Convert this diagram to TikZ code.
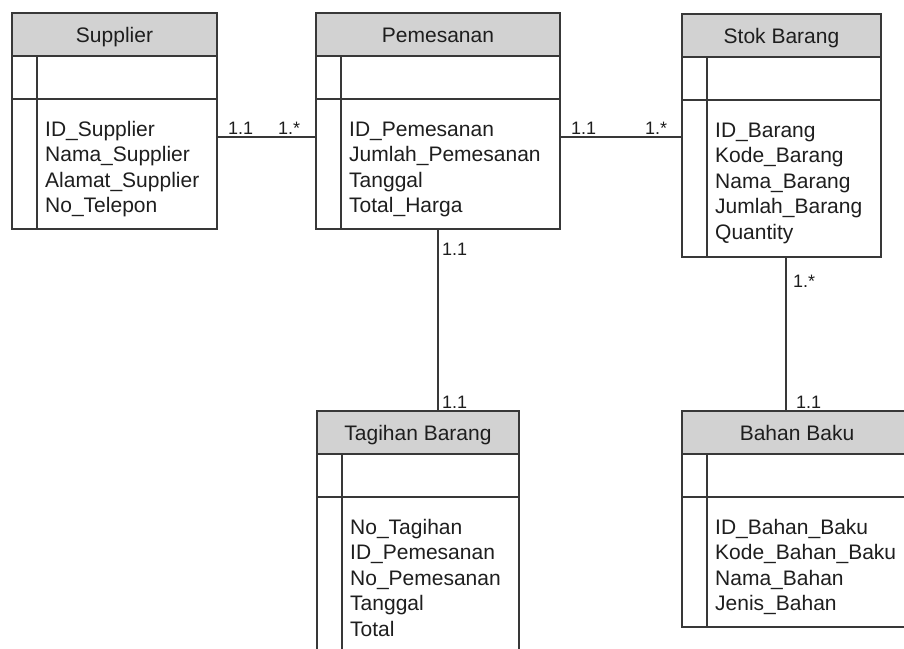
\documentclass[tikz,border=0pt]{standalone}
\usepackage{fontspec}
\setmainfont{Liberation Sans}
\usetikzlibrary{calc,fit}

\definecolor{edgecol}{HTML}{383838}
\definecolor{headfill}{HTML}{D2D2D2}
\definecolor{txtcol}{HTML}{1E1E1E}

\tikzset{
  entbox/.style={inner sep=0pt, outer sep=0pt},
  entline/.style={draw=edgecol, line width=1.3pt},
  hdrtext/.style={anchor=base, inner sep=0pt, text=txtcol, font=\fontsize{21}{25}\selectfont},
  attr/.style={anchor=base west, inner sep=0pt, text=txtcol, font=\fontsize{21}{25}\selectfont},
  mult/.style={anchor=base west, inner sep=0pt, text=txtcol, font=\fontsize{18}{21}\selectfont},
  conn/.style={draw=edgecol, line width=1.2pt}
}

% Class box: name, left, top, right, bottom, title, attribute list
\newcommand\erentity[7]{%
  \coordinate (#1-nw) at (#2,#3);
  \coordinate (#1-se) at (#4,#5);
  \node[entbox, fit=(#1-nw)(#1-se)] (#1) {};
  \fill[headfill] (#1.north west) rectangle ([yshift=-43pt]#1.north east);
  \node[hdrtext] (#1-title) at ($(#1.north west)!0.5!(#1.north east)+(0,29)$) {#6};
  \draw[entline] ([yshift=-43pt]#1.north west) -- ([yshift=-43pt]#1.north east);
  \draw[entline] ([yshift=-86pt]#1.north west) -- ([yshift=-86pt]#1.north east);
  \draw[entline] ([xshift=25pt,yshift=-43pt]#1.north west) -- ([xshift=25pt]#1.south west);
  \foreach \t [count=\i] in {#7}
    \node[attr] (#1-a\i) at ($(#1.north west)+(33,{123+(\i-1)*25.6})$) {\t};
  \draw[entline] (#1.north west) rectangle (#1.south east);
}

\begin{document}
\begin{tikzpicture}[x=1pt, y=-1pt]
  \useasboundingbox (0,0) rectangle (904,648);
  \fill[white] (0,0) rectangle (904,648);
  \clip (0,0) rectangle (904,648);

  \erentity{sup}{12}{13}{217}{229}{Supplier}
    {ID\_Supplier, Nama\_Supplier, Alamat\_Supplier, No\_Telepon}
  \erentity{pem}{316}{13}{560}{229}{Pemesanan}
    {ID\_Pemesanan, Jumlah\_Pemesanan, Tanggal, Total\_Harga}
  \erentity{stok}{682}{14}{881}{257}{Stok Barang}
    {ID\_Barang, Kode\_Barang, Nama\_Barang, Jumlah\_Barang, Quantity}
  \erentity{tag}{317}{411}{519}{670}{Tagihan Barang}
    {No\_Tagihan, ID\_Pemesanan, No\_Pemesanan, Tanggal, Total}
  \erentity{bahan}{682}{411}{912}{627}{Bahan Baku}
    {ID\_Bahan\_Baku, Kode\_Bahan\_Baku, Nama\_Bahan, Jenis\_Bahan}

  % associations
  \coordinate (rowY) at (0,137);
  \coordinate (colPT) at (438,0);
  \coordinate (colSB) at (786,0);
  \draw[conn] (sup.east |- rowY) -- (pem.west |- rowY);
  \draw[conn] (pem.east |- rowY) -- (stok.west |- rowY);
  \draw[conn] (pem.south -| colPT) -- (tag.north -| colPT);
  \draw[conn] (stok.south -| colSB) -- (bahan.north -| colSB);

  % multiplicities
  \node[mult] (m1) at (228,134) {1.1};
  \node[mult] (m2) at (278,134) {1.*};
  \node[mult] (m3) at (571,134) {1.1};
  \node[mult] (m4) at (645,134) {1.*};
  \node[mult] (m5) at (442,255) {1.1};
  \node[mult] (m6) at (442,408) {1.1};
  \node[mult] (m7) at (793,287) {1.*};
  \node[mult] (m8) at (796,408) {1.1};
\end{tikzpicture}
\end{document}
